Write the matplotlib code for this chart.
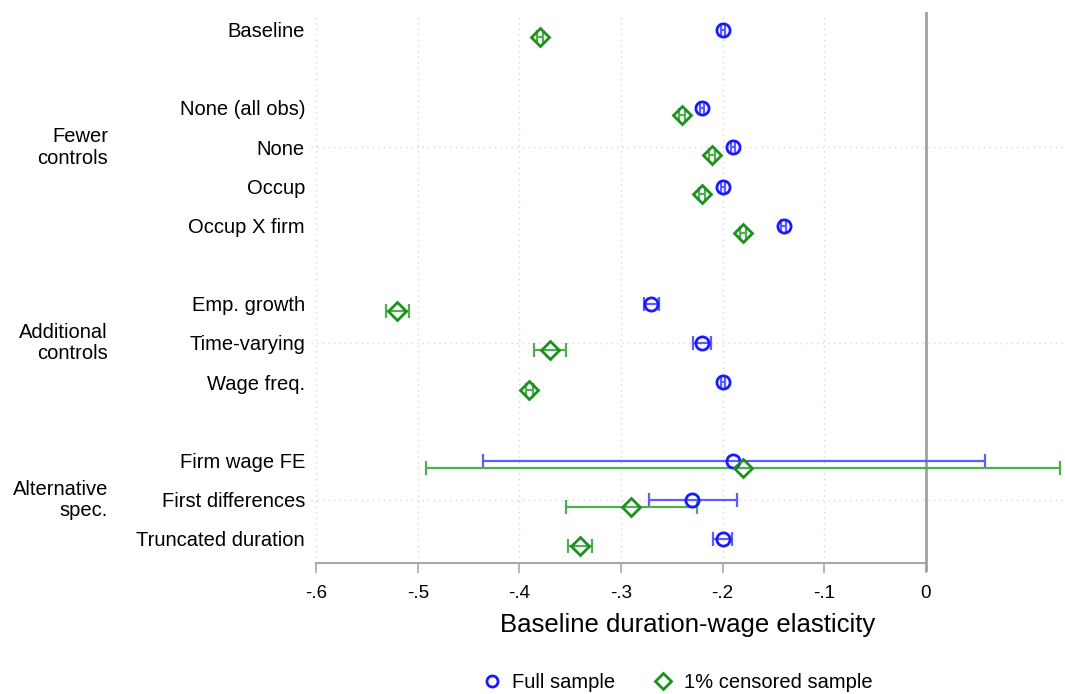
import numpy as np
import matplotlib
matplotlib.use('Agg')
import matplotlib.pyplot as plt
import matplotlib.transforms as mtransforms
from matplotlib.lines import Line2D

plt.rcParams['font.family'] = ['Liberation Sans', 'DejaVu Sans']

# rows (top to bottom), empty strings are spacer rows
row_labels = ['Baseline', '', 'None (all obs)', 'None', 'Occup', 'Occup X firm', '',
              'Emp. growth', 'Time-varying', 'Wage freq.', '',
              'Firm wage FE', 'First differences', 'Truncated duration']
group_labels = ['Fewer\ncontrols', 'Additional\ncontrols', 'Alternative\nspec.']
group_rows = [4, 9, 13]

rows = [1, 3, 4, 5, 6, 8, 9, 10, 12, 13, 14]

full_est = [-0.20, -0.22, -0.19, -0.20, -0.14, -0.27, -0.22, -0.20, -0.19, -0.23, -0.20]
full_lo = [-0.202, -0.222, -0.192, -0.202, -0.142, -0.277, -0.229, -0.202, -0.436, -0.272, -0.209]
full_hi = [-0.198, -0.218, -0.188, -0.198, -0.138, -0.263, -0.211, -0.198, 0.058, -0.186, -0.191]

cens_est = [-0.38, -0.24, -0.21, -0.22, -0.18, -0.52, -0.37, -0.39, -0.18, -0.29, -0.34]
cens_lo = [-0.383, -0.243, -0.213, -0.223, -0.183, -0.531, -0.386, -0.393, -0.492, -0.354, -0.352]
cens_hi = [-0.377, -0.237, -0.207, -0.217, -0.177, -0.509, -0.354, -0.387, 0.132, -0.225, -0.328]

xticks = [-0.6, -0.5, -0.4, -0.3, -0.2, -0.1, 0]
xticklabels = ['-.6', '-.5', '-.4', '-.3', '-.2', '-.1', '0']

blue = '#1a1aff'
green = '#1f8f1f'
fs = 14.5

fig = plt.figure(figsize=(10.65, 6.94), dpi=100)
ax = fig.add_axes([311 / 1065, 1 - 563 / 694, (1065 - 311) / 1065, (563 - 13) / 694])

r = np.array(rows, dtype=float)
fe = np.array(full_est)
ce = np.array(cens_est)

ax.errorbar(fe, r, xerr=[fe - np.array(full_lo), np.array(full_hi) - fe],
            fmt='none', ecolor='#5c5cff', elinewidth=1.6, capsize=5, capthick=1.6, zorder=3)
ax.errorbar(ce, r + 0.18, xerr=[ce - np.array(cens_lo), np.array(cens_hi) - ce],
            fmt='none', ecolor='#4fae4f', elinewidth=1.6, capsize=5, capthick=1.6, zorder=3)
ax.plot(fe, r, 'o', ms=9.5, mfc='none', mec=blue, mew=2, zorder=4)
ax.plot(ce, r + 0.18, 'D', ms=9.5, mfc='none', mec=green, mew=2, zorder=4)

ax.axvline(0, color='#a0a0a0', lw=2, zorder=2, ymin=-0.012, clip_on=False)

for xv in xticks[:-1]:
    ax.axvline(xv, color='#d8d8d8', lw=1, ls=(0, (1, 3)), zorder=1)
for gr in group_rows:
    ax.axhline(gr, color='#d8d8d8', lw=1, ls=(0, (1, 3)), zorder=1)

ax.set_xlim(-0.605, 0.137)
ax.set_ylim(14.61, 0.566)

for s in ['top', 'right', 'left']:
    ax.spines[s].set_visible(False)
ax.spines['bottom'].set_bounds(-0.6, 0)
ax.spines['bottom'].set_color('#a8a8a8')
ax.spines['bottom'].set_linewidth(1.5)

ax.set_xticks(xticks)
ax.set_xticklabels(xticklabels, fontsize=13.5)
ax.tick_params(axis='x', length=7, width=1.2, color='#a8a8a8', pad=9)
ax.set_yticks([])

# labels placed in figure x, data y
lab_trans = mtransforms.blended_transform_factory(fig.transFigure, ax.transData)
for i, lab in enumerate(row_labels):
    if lab:
        ax.text(305 / 1065, i + 1.04, lab, ha='right', va='center',
                fontsize=fs, transform=lab_trans)
for gl, gr in zip(group_labels, group_rows):
    ax.text(108 / 1065, gr, gl, ha='right', va='center', fontsize=fs,
            linespacing=1.15, transform=lab_trans)

ax.set_xlabel('Baseline duration-wage elasticity', fontsize=18.5, labelpad=8)

handles = [Line2D([], [], ls='none', marker='o', ms=8, mfc='none', mec=blue, mew=2),
           Line2D([], [], ls='none', marker='D', ms=8, mfc='none', mec=green, mew=2)]
fig.legend(handles, ['Full sample', '1% censored sample'], loc='center',
           bbox_to_anchor=(677 / 1065, 1 - 683 / 694), ncol=2, frameon=False,
           fontsize=fs, handlelength=1.0, handletextpad=0.5, columnspacing=1.9)

fig.savefig('out.png', dpi=100)
